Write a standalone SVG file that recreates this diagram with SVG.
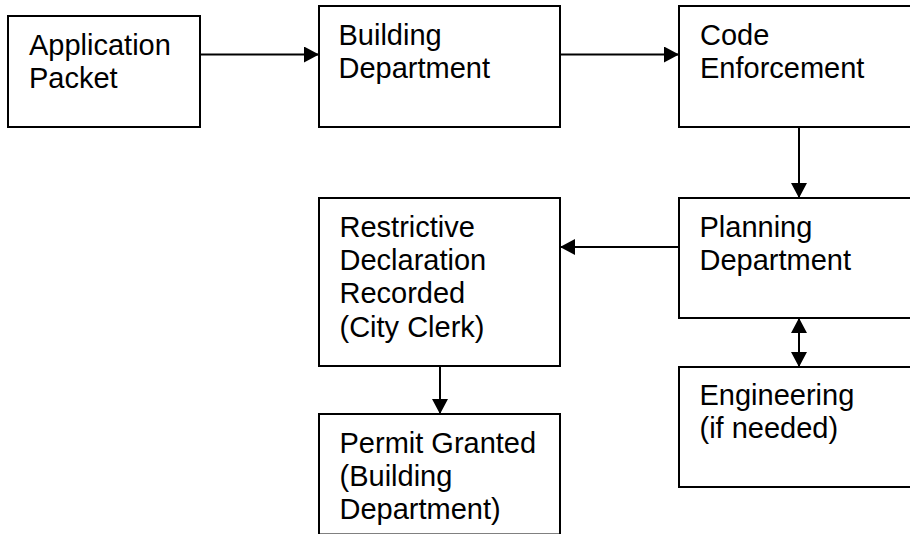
<svg xmlns="http://www.w3.org/2000/svg" width="910" height="534" viewBox="0 0 910 534">
<style>
.box{fill:#fff;stroke:#000;stroke-width:2}
.lbl{font-family:"Liberation Sans",Arial,sans-serif;font-size:29px;fill:#000}
.con{stroke:#000;stroke-width:2;fill:none}
</style>
<defs>
<marker id="ah" viewBox="0 0 15 16" refX="15" refY="8" markerWidth="15" markerHeight="16" markerUnits="userSpaceOnUse" orient="auto-start-reverse">
<path d="M0,0 L15,8 L0,16 Z" fill="#000"/>
</marker>
</defs>
<rect width="910" height="534" fill="#fff"/>
<g id="connectors">
<line class="con" x1="200" y1="54.5" x2="319" y2="54.5" marker-end="url(#ah)"/>
<line class="con" x1="560" y1="54.5" x2="679" y2="54.5" marker-end="url(#ah)"/>
<line class="con" x1="799" y1="127" x2="799" y2="198" marker-end="url(#ah)"/>
<line class="con" x1="679" y1="247" x2="560" y2="247" marker-end="url(#ah)"/>
<line class="con" x1="799" y1="318" x2="799" y2="367" marker-start="url(#ah)" marker-end="url(#ah)"/>
<line class="con" x1="440" y1="366" x2="440" y2="414" marker-end="url(#ah)"/>
</g>
<g id="application-packet">
<rect class="box" x="8" y="16" width="192" height="111"/>
<text class="lbl" x="29" y="55">Application</text>
<text class="lbl" x="29" y="88.4">Packet</text>
</g>
<g id="building-department">
<rect class="box" x="319" y="6" width="241" height="121"/>
<text class="lbl" x="338.5" y="45">Building</text>
<text class="lbl" x="338.5" y="78.4">Department</text>
</g>
<g id="code-enforcement">
<rect class="box" x="679" y="6" width="250" height="121"/>
<text class="lbl" x="700" y="45">Code</text>
<text class="lbl" x="700" y="78.4">Enforcement</text>
</g>
<g id="planning-department">
<rect class="box" x="679" y="198" width="250" height="120"/>
<text class="lbl" x="699.5" y="236.7">Planning</text>
<text class="lbl" x="699.5" y="270">Department</text>
</g>
<g id="restrictive-declaration">
<rect class="box" x="319" y="198" width="241" height="168"/>
<text class="lbl" x="339.5" y="236.7">Restrictive</text>
<text class="lbl" x="339.5" y="270">Declaration</text>
<text class="lbl" x="339.5" y="303.4">Recorded</text>
<text class="lbl" x="339.5" y="336.7">(City Clerk)</text>
</g>
<g id="engineering">
<rect class="box" x="679" y="367" width="250" height="120"/>
<text class="lbl" x="699.5" y="405">Engineering</text>
<text class="lbl" x="699.5" y="438.4">(if needed)</text>
</g>
<g id="permit-granted">
<rect class="box" x="319" y="414" width="241" height="120.5"/>
<text class="lbl" x="339.5" y="452.7">Permit Granted</text>
<text class="lbl" x="339.5" y="486">(Building</text>
<text class="lbl" x="339.5" y="519.4">Department)</text>
</g>
</svg>
